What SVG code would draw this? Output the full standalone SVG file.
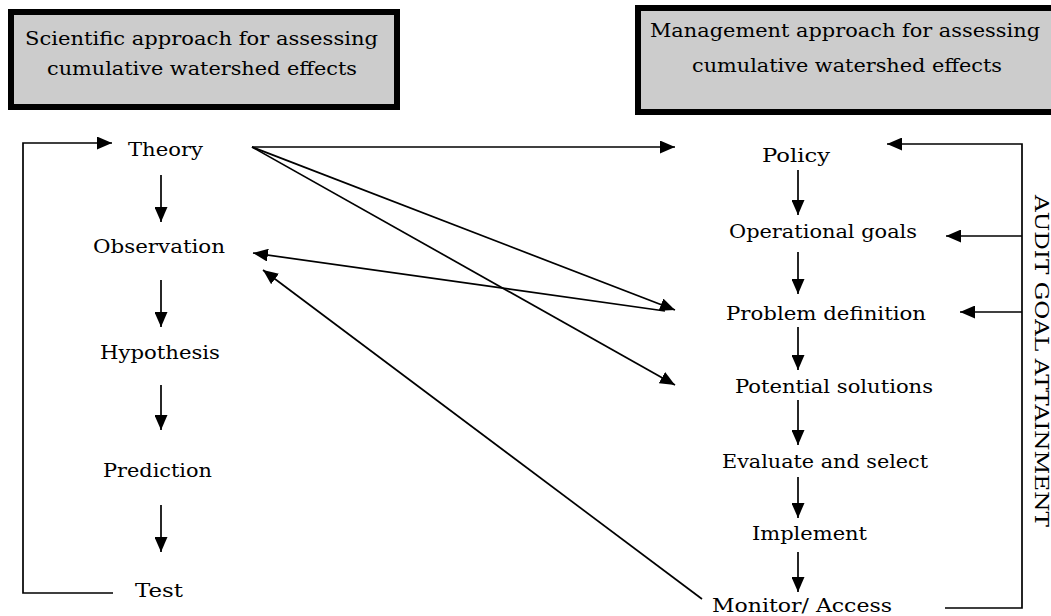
<svg xmlns="http://www.w3.org/2000/svg" width="1051" height="616" viewBox="0 0 1051 616">
<defs>
<marker id="ah" viewBox="0 0 15 13" refX="15" refY="6.5" markerWidth="15" markerHeight="13" markerUnits="userSpaceOnUse" orient="auto">
<path d="M0,0 L15,6.5 L0,13 z" fill="#000"/>
</marker>
<style>
.t{font-family:"DejaVu Serif","Liberation Serif",serif;font-size:18px;fill:#000;}
.h{font-family:"DejaVu Serif","Liberation Serif",serif;font-size:19px;fill:#000;}
.box{fill:#cccccc;stroke:#000;stroke-width:6;}
.c line,.c polyline{stroke:#000;stroke-width:1.7;fill:none;}
.a{marker-end:url(#ah);}
</style>
</defs>
<rect width="1051" height="616" fill="#fff"/>
<g id="sci-header">
<rect class="box" x="11" y="12" width="386" height="95"/>
<text class="h" x="25" y="45" textLength="353" lengthAdjust="spacingAndGlyphs">Scientific approach for assessing</text>
<text class="h" x="47" y="75" textLength="310" lengthAdjust="spacingAndGlyphs">cumulative watershed effects</text>
</g>
<g id="mgmt-header">
<rect class="box" x="638" y="8" width="420" height="104"/>
<text class="h" x="650" y="37" textLength="390" lengthAdjust="spacingAndGlyphs">Management approach for assessing</text>
<text class="h" x="692" y="72" textLength="310" lengthAdjust="spacingAndGlyphs">cumulative watershed effects</text>
</g>
<g id="theory"><text class="t" x="128" y="156" textLength="75" lengthAdjust="spacingAndGlyphs">Theory</text></g>
<g id="observation"><text class="t" x="93" y="253" textLength="132" lengthAdjust="spacingAndGlyphs">Observation</text></g>
<g id="hypothesis"><text class="t" x="100" y="359" textLength="120" lengthAdjust="spacingAndGlyphs">Hypothesis</text></g>
<g id="prediction"><text class="t" x="103" y="477" textLength="109" lengthAdjust="spacingAndGlyphs">Prediction</text></g>
<g id="test"><text class="t" x="135" y="597" textLength="48" lengthAdjust="spacingAndGlyphs">Test</text></g>
<g id="policy"><text class="t" x="762" y="162" textLength="68" lengthAdjust="spacingAndGlyphs">Policy</text></g>
<g id="operational-goals"><text class="t" x="729" y="238" textLength="188" lengthAdjust="spacingAndGlyphs">Operational goals</text></g>
<g id="problem-definition"><text class="t" x="726" y="320" textLength="200" lengthAdjust="spacingAndGlyphs">Problem definition</text></g>
<g id="potential-solutions"><text class="t" x="735" y="393" textLength="198" lengthAdjust="spacingAndGlyphs">Potential solutions</text></g>
<g id="evaluate-select"><text class="t" x="722" y="468" textLength="206" lengthAdjust="spacingAndGlyphs">Evaluate and select</text></g>
<g id="implement"><text class="t" x="752" y="540" textLength="115" lengthAdjust="spacingAndGlyphs">Implement</text></g>
<g id="monitor"><text class="t" x="712" y="612" textLength="180" lengthAdjust="spacingAndGlyphs">Monitor/ Access</text></g>
<g id="audit-label"><text class="t" style="font-size:19px" transform="translate(1035,195) rotate(90)" textLength="332" lengthAdjust="spacingAndGlyphs">AUDIT GOAL ATTAINMENT</text></g>
<g id="connectors" class="c">
<line class="a" x1="161" y1="175" x2="161" y2="222"/>
<line class="a" x1="161" y1="280" x2="161" y2="327"/>
<line class="a" x1="161" y1="385" x2="161" y2="430"/>
<line class="a" x1="161" y1="505" x2="161" y2="552"/>
<polyline class="a" points="113,593 23,593 23,143 112,143"/>
<line class="a" x1="798" y1="170" x2="798" y2="215"/>
<line class="a" x1="798" y1="252" x2="798" y2="294"/>
<line class="a" x1="798" y1="327" x2="798" y2="370"/>
<line class="a" x1="798" y1="400" x2="798" y2="445"/>
<line class="a" x1="798" y1="477" x2="798" y2="518"/>
<line class="a" x1="798" y1="552" x2="798" y2="592"/>
<polyline class="a" points="945,608 1022,608 1022,144 887,144"/>
<line class="a" x1="1022" y1="236" x2="946" y2="236"/>
<line class="a" x1="1022" y1="312" x2="960" y2="312"/>
<line class="a" x1="252" y1="147" x2="675" y2="147"/>
<line class="a" x1="252" y1="147" x2="675" y2="310"/>
<line class="a" x1="252" y1="147" x2="675" y2="385"/>
<line class="a" x1="665" y1="311" x2="253" y2="253"/>
<line class="a" x1="702" y1="599" x2="263" y2="270"/>
</g>
</svg>
